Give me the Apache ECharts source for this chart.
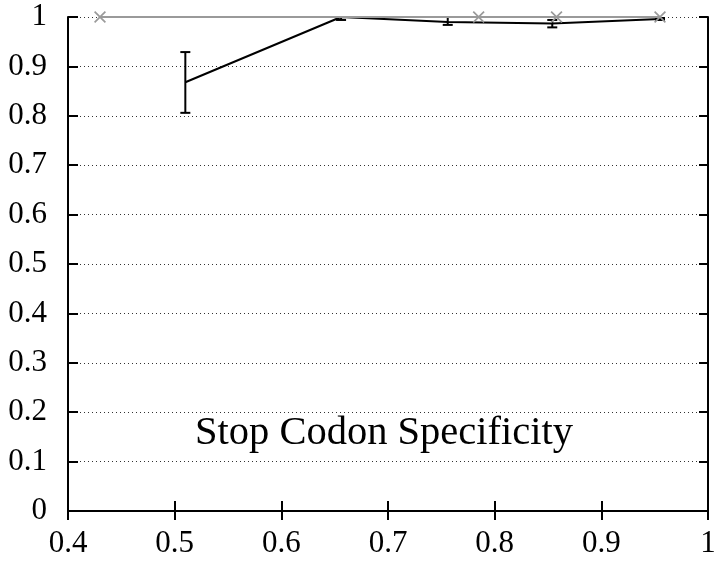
<!DOCTYPE html>
<html>
<head>
<meta charset="utf-8">
<script src="https://cdn.jsdelivr.net/npm/echarts@6/dist/echarts.min.js"></script>
<style>
html,body{margin:0;padding:0;background:#fff;}
#chart{width:721px;height:563px;}
</style>
</head>
<body>
<div id="chart"></div>
<script>
// Data
var grayX = [0.43, 0.785, 0.858, 0.955];
var grayY = [1.0, 1.0, 1.0, 1.0];

var blackX = [0.51, 0.656, 0.756, 0.854, 0.955];
var blackY = [0.868, 1.0, 0.990, 0.987, 0.996];
var errLow = [0.806, 0.994, 0.984, 0.979, 0.994];
var errHigh = [0.929, 1.0, 1.0, 0.994, 0.998];

var xTicks = [0.4, 0.5, 0.6, 0.7, 0.8, 0.9, 1];
var yTicks = [0, 0.1, 0.2, 0.3, 0.4, 0.5, 0.6, 0.7, 0.8, 0.9, 1];
var label = 'Stop Codon Specificity';

var grayData = grayX.map(function (x, i) { return [x, grayY[i]]; });
var blackData = blackX.map(function (x, i) { return [x, blackY[i]]; });
var errData = blackX.map(function (x, i) { return [x, errLow[i], errHigh[i]]; });

var serif = '"Liberation Serif","DejaVu Serif",serif';
var crossPath = 'path://M0,1 L1,0 L5,4 L9,0 L10,1 L6,5 L10,9 L9,10 L5,6 L1,10 L0,9 L4,5 Z';

var chart = echarts.init(document.getElementById('chart'), null, {renderer: 'canvas'});
var fmt = function (v) { return String(Math.round(v * 10) / 10); };
var axisLabelX = {color: '#000', fontFamily: serif, fontSize: 31, margin: 17, formatter: fmt};
var axisLabelY = {color: '#000', fontFamily: serif, fontSize: 31, margin: 21, formatter: fmt};

chart.setOption({
  animation: false,
  backgroundColor: '#fff',
  grid: {left: 68, right: 13, top: 17, bottom: 52, containLabel: false},
  xAxis: [{
    type: 'value', min: xTicks[0], max: xTicks[xTicks.length - 1], interval: 0.1,
    position: 'bottom',
    axisLine: {show: true, lineStyle: {color: '#000', width: 2}},
    axisTick: {show: true, inside: true, length: 10, lineStyle: {color: '#000', width: 2}},
    axisLabel: axisLabelX,
    splitLine: {show: false}
  }, {
    type: 'value', min: xTicks[0], max: xTicks[xTicks.length - 1], interval: 0.1,
    position: 'top',
    axisLine: {show: true, lineStyle: {color: '#000', width: 2}},
    axisTick: {show: true, inside: true, length: 9, lineStyle: {color: '#000', width: 2}},
    axisLabel: {show: false},
    splitLine: {show: false}
  }],
  yAxis: [{
    type: 'value', min: yTicks[0], max: yTicks[yTicks.length - 1], interval: 0.1,
    position: 'left',
    axisLine: {show: true, lineStyle: {color: '#000', width: 2}},
    axisTick: {show: true, inside: true, length: 10, lineStyle: {color: '#000', width: 2}},
    axisLabel: axisLabelY,
    splitLine: {show: true, lineStyle: {color: '#333', width: 1, type: [1, 3]}}
  }, {
    type: 'value', min: yTicks[0], max: yTicks[yTicks.length - 1], interval: 0.1,
    position: 'right',
    axisLine: {show: true, lineStyle: {color: '#000', width: 2}},
    axisTick: {show: true, inside: true, length: 9, lineStyle: {color: '#000', width: 2}},
    axisLabel: {show: false},
    splitLine: {show: false}
  }],
  series: [{
    type: 'custom',
    name: 'err',
    xAxisIndex: 0, yAxisIndex: 0,
    data: errData,
    z: 3,
    clip: false,
    renderItem: function (params, api) {
      var x = api.value(0);
      var lo = api.coord([x, api.value(1)]);
      var hi = api.coord([x, api.value(2)]);
      var hw = 5;
      var st = {stroke: '#000', lineWidth: 2};
      return {type: 'group', children: [
        {type: 'line', shape: {x1: lo[0], y1: lo[1], x2: hi[0], y2: hi[1]}, style: st},
        {type: 'line', shape: {x1: lo[0] - hw, y1: lo[1], x2: lo[0] + hw, y2: lo[1]}, style: st},
        {type: 'line', shape: {x1: hi[0] - hw, y1: hi[1], x2: hi[0] + hw, y2: hi[1]}, style: st}
      ]};
    }
  }, {
    type: 'line',
    name: 'black',
    data: blackData,
    showSymbol: false,
    symbol: 'none',
    lineStyle: {color: '#000', width: 2},
    z: 4,
    clip: false
  }, {
    type: 'line',
    name: 'gray',
    data: grayData,
    symbol: crossPath,
    symbolSize: 12,
    itemStyle: {color: '#9a9a9a'},
    lineStyle: {color: '#9a9a9a', width: 2},
    z: 5,
    clip: false
  }],
  graphic: [{
    type: 'text',
    left: 195,
    top: 413,
    style: {text: label, fill: '#000', font: '40.5px ' + serif}
  }]
});
</script>
</body>
</html>
